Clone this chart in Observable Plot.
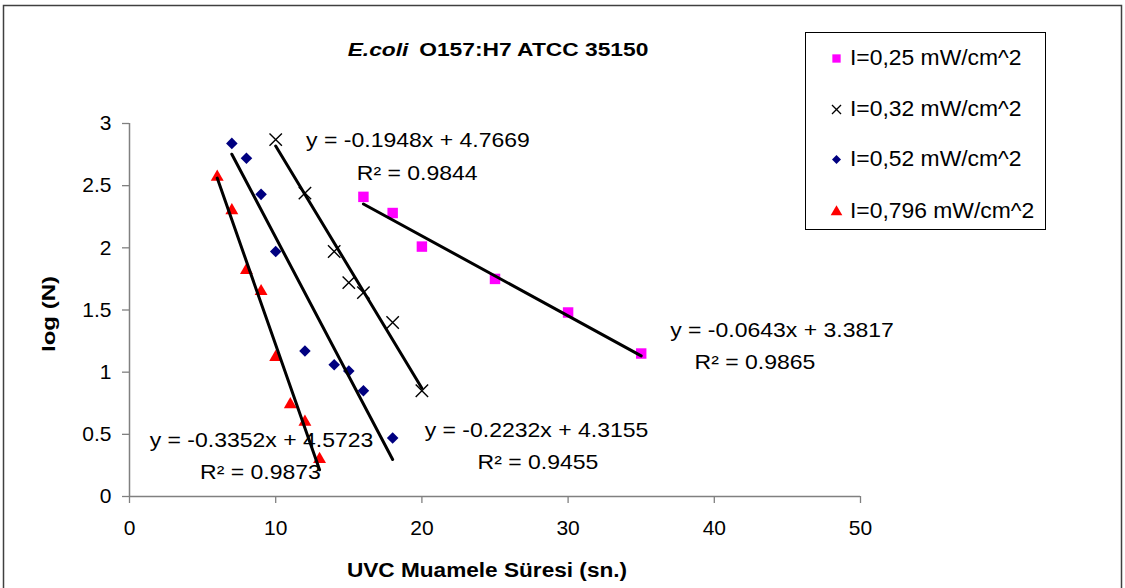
<!DOCTYPE html>
<html><head><meta charset="utf-8">
<script src="https://cdn.jsdelivr.net/npm/d3@7"></script>
<script src="https://cdn.jsdelivr.net/npm/@observablehq/plot@0.6"></script>
<style>
html,body{margin:0;padding:0;background:#fff;overflow:hidden;}
#wrap{position:relative;width:1125px;height:588px;font-family:"Liberation Sans",Arial,sans-serif;}
#wrap > svg{position:absolute;left:0;top:0;}
</style></head><body><div id="wrap"></div>
<script>
// ---- data ----
const seriesNames = ["I=0,25 mW/cm^2", "I=0,32 mW/cm^2", "I=0,52 mW/cm^2", "I=0,796 mW/cm^2"];
const seriesColors = ["#FF00FF", "#000000", "#000080", "#FF0000"];
const seriesSymbols = ["square", "times", "diamond2", "triangle"];
const time025 = [16, 18, 20, 25, 30, 35];
const log025 = [2.41, 2.28, 2.01, 1.75, 1.48, 1.15];
const time032 = [10, 12, 14, 15, 16, 18, 20];
const log032 = [2.87, 2.44, 1.97, 1.72, 1.64, 1.40, 0.85];
const time052 = [7, 8, 9, 10, 12, 14, 15, 16, 18];
const log052 = [2.84, 2.72, 2.43, 1.97, 1.17, 1.06, 1.01, 0.85, 0.47];
const time0796 = [6, 7, 8, 9, 10, 11, 12, 13];
const log0796 = [2.57, 2.30, 1.82, 1.65, 1.12, 0.74, 0.60, 0.30];
const slopes = [-0.0643, -0.1948, -0.2232, -0.3352];
const intercepts = [3.3817, 4.7669, 4.3155, 4.5723];
const rSquared = [0.9865, 0.9844, 0.9455, 0.9873];
const xTicks = [0, 10, 20, 30, 40, 50];
const yTicks = [0, 0.5, 1, 1.5, 2, 2.5, 3];
// equation / R² label anchors, in data units (x = time, y = log N)
const eqX = [44.63, 19.73, 27.84, 9.03];
const eqY = [1.335, 2.861, 0.529, 0.449];
const r2X = [42.78, 19.68, 27.94, 8.96];
const r2Y = [1.077, 2.595, 0.272, 0.191];
const titleItalic = "E.coli";
const titleRest = "O157:H7 ATCC 35150";
const xLabel = "UVC Muamele Süresi (sn.)";
const yLabel = "log (N)";

// ---- build tables ----
const times = [time025, time032, time052, time0796];
const logs = [log025, log032, log052, log0796];
const pts = times.map((t, s) => t.map((x, i) => ({s, x, y: logs[s][i]})));
const lineData = times.flatMap((t, s) => {
  const x0 = d3.min(t), x1 = d3.max(t);
  return [x0, x1].map(x => ({s, x, y: slopes[s] * x + intercepts[s]}));
});
const labelData = slopes.flatMap((m, s) => [
  {x: eqX[s], y: eqY[s], text: `y = ${m.toFixed(4)}x + ${intercepts[s].toFixed(4)}`},
  {x: r2X[s], y: r2Y[s], text: `R² = ${rSquared[s].toFixed(4)}`}
]);
const dotR = {square: 5.9, times: 5.7, diamond2: 5.2, triangle: 4.8};

const dotMarks = pts.map((d, s) => {
  const sym = seriesSymbols[s];
  return sym === "times"
    ? Plot.dot(d, {x: "x", y: "y", symbol: sym, r: dotR[sym], stroke: seriesColors[s], strokeWidth: 1.4, fill: "none"})
    : Plot.dot(d, {x: "x", y: "y", symbol: sym, r: dotR[sym], fill: seriesColors[s], stroke: "none"});
});

const chart = Plot.plot({
  width: 1125, height: 588,
  marginLeft: 129, marginRight: 265, marginTop: 123, marginBottom: 92,
  x: {domain: [0, 50]},
  y: {domain: [0, 3]},
  style: {fontFamily: "Liberation Sans, Arial, sans-serif", fontSize: "21px", color: "black", background: "transparent", overflow: "visible"},
  marks: [
    Plot.axisX({ticks: xTicks, tickSize: 7, tickPadding: 17, stroke: "#808080", strokeWidth: 1.3, fill: "black", fontSize: 21, label: null, tickFormat: d => String(d)}),
    Plot.axisY({ticks: yTicks, tickSize: 7, tickPadding: 11, stroke: "#808080", strokeWidth: 1.3, fill: "black", fontSize: 21, label: null, tickFormat: d => String(d)}),
    Plot.ruleY([0], {stroke: "#808080", strokeWidth: 1.5}),
    Plot.ruleX([0], {stroke: "#808080", strokeWidth: 1.5}),
    ...dotMarks,
    Plot.line(lineData, {x: "x", y: "y", z: "s", stroke: "black", strokeWidth: 3}),
    Plot.text(labelData, {x: "x", y: "y", text: "text", fontSize: 20, fill: "black", textAnchor: "middle"})
  ]
});
chart.querySelectorAll('g[aria-label="text"] text').forEach(t => {
  t.setAttribute("transform", (t.getAttribute("transform") || "") + " scale(1.15,1)");
});
document.getElementById("wrap").appendChild(chart);

// ---- overlay: frame, title, axis labels, legend ----
const ov = d3.select("#wrap").append("svg")
  .attr("width", 1125).attr("height", 588)
  .style("font-family", "Liberation Sans, Arial, sans-serif")
  .style("pointer-events", "none");
ov.append("rect").attr("x", 3.5).attr("y", 5.5).attr("width", 1118).attr("height", 640)
  .attr("fill", "none").attr("stroke", "#404040").attr("stroke-width", 1.5);

const title = ov.append("text")
  .attr("transform", "translate(498,55.7) scale(1.2,1)")
  .attr("text-anchor", "middle").attr("font-weight", "bold").attr("font-size", 19);
title.append("tspan").attr("font-style", "italic").text(titleItalic);
title.append("tspan").attr("dx", 9).text(titleRest);

ov.append("text")
  .attr("transform", "translate(487,576.7) scale(1.16,1)")
  .attr("text-anchor", "middle").attr("font-weight", "bold").attr("font-size", 19.5)
  .text(xLabel);

ov.append("text")
  .attr("transform", "translate(55,314) rotate(-90) scale(1.3,1)")
  .attr("text-anchor", "middle").attr("font-weight", "bold").attr("font-size", 18.5)
  .text(yLabel);

const lg = ov.append("g");
lg.append("rect").attr("x", 805.5).attr("y", 32.5).attr("width", 240).attr("height", 197)
  .attr("fill", "white").attr("stroke", "black").attr("stroke-width", 1);
const rowY = [57, 108, 158, 210.5];
const legSym = {square: [d3.symbolSquare, 69], times: [d3.symbolTimes, 55], diamond2: [d3.symbolDiamond2, 52], triangle: [d3.symbolTriangle, 59]};
seriesNames.forEach((name, s) => {
  const [type, size] = legSym[seriesSymbols[s]];
  const p = lg.append("path")
    .attr("transform", `translate(836.5,${rowY[s] + 1.5})`)
    .attr("d", d3.symbol(type, size)());
  if (seriesSymbols[s] === "times") p.attr("fill", "none").attr("stroke", seriesColors[s]).attr("stroke-width", 1.3);
  else p.attr("fill", seriesColors[s]);
  lg.append("text").attr("x", 850).attr("y", rowY[s] + 7.9).attr("font-size", 22)
    .attr("transform", `translate(850,0) scale(1.04,1) translate(-850,0)`)
    .text(name);
});
</script>
</body></html>
